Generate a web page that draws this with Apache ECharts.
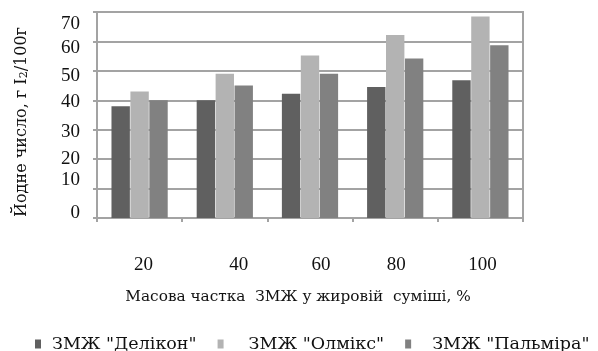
<!DOCTYPE html>
<html><head><meta charset="utf-8">
<script src="https://cdn.jsdelivr.net/npm/echarts@6/dist/echarts.min.js"></script>
<style>html,body{margin:0;padding:0;background:#fff}#c{width:598px;height:351px}</style>
</head><body><div id="c"></div>
<script>
const categories = ['20', '40', '60', '80', '100'];
const seriesNames = ['ЗМЖ "Делікон"', 'ЗМЖ "Олмікс"', 'ЗМЖ "Пальміра"'];
const delikon = [38, 40, 42.2, 44.5, 46.8];
const olmiks = [43, 49, 55.2, 62.2, 68.5];
const palmira = [40, 45, 49, 54.2, 58.7];
const yTicks = [0, 10, 20, 30, 40, 50, 60, 70];

const colors = ['#606060', '#b3b3b3', '#818181'];
const xShift = [4, 14, 11, 1, 2];
const yShift = { 0: -5, 10: -9, 20: 0, 30: 2, 40: 2, 50: 5, 60: 7, 70: 12 };
const legendPad = [6, 20, 16];
const numFont = '"Liberation Serif", serif';
const txtFont = '"DejaVu Serif", serif';

const xRich = {};
xShift.forEach((s, i) => {
  xRich['s' + i] = { fontFamily: numFont, fontSize: 19, color: '#111',
    padding: s >= 0 ? [0, 0, 0, 2 * s] : [0, -2 * s, 0, 0] };
});
const yRich = {};
yTicks.forEach(v => {
  const d = yShift[v];
  yRich['v' + v] = { fontFamily: numFont, fontSize: 19, color: '#111',
    padding: d >= 0 ? [2 * d, 0, 0, 0] : [0, 0, -2 * d, 0] };
});
const lRich = {};
legendPad.forEach((p, i) => { lRich['n' + i] = { fontFamily: txtFont, fontSize: 17.5, color: '#111', padding: [0, 0, 0, p] }; });

const chart = echarts.init(document.getElementById('c'));
chart.setOption({
  animation: false,
  color: colors,
  grid: { left: 97, right: 75, top: 12, bottom: 133, show: true, borderColor: '#a3a3a3', borderWidth: 2 },
  legend: {
    data: seriesNames, left: 30, top: 330, icon: 'rect', itemWidth: 6, itemHeight: 9, itemGap: 21,
    formatter: name => '{n' + seriesNames.indexOf(name) + '|' + name + '}',
    textStyle: { fontFamily: txtFont, fontSize: 17.5, color: '#111', rich: lRich }
  },
  xAxis: {
    type: 'category', data: categories,
    name: '{t|Масова частка  ЗМЖ у жировій  суміші, %}', nameLocation: 'middle', nameGap: 72,
    nameTextStyle: { rich: { t: { fontFamily: txtFont, fontSize: 15.3, color: '#111', padding: [0, 24, 0, 0] } } },
    axisLine: { lineStyle: { color: '#a3a3a3', width: 2 } },
    axisTick: { show: true, length: 4, lineStyle: { color: '#a3a3a3', width: 2 } },
    axisLabel: { margin: 38, formatter: (v, i) => '{s' + i + '|' + v + '}', rich: xRich },
    splitLine: { show: false }
  },
  yAxis: {
    type: 'value', min: 0, max: 70, interval: 10,
    name: '{a|Йодне число, г I}{b|2}{a|/100г}', nameLocation: 'middle', nameGap: 67, nameRotate: 90,
    nameTextStyle: { padding: [0, 14, 0, 0], rich: {
      a: { fontFamily: txtFont, fontSize: 16, color: '#111' },
      b: { fontFamily: txtFont, fontSize: 11, color: '#111', verticalAlign: 'bottom', padding: [6, 0, 0, 0] }
    } },
    axisLine: { show: true, lineStyle: { color: '#a3a3a3', width: 2 } },
    axisTick: { show: true, length: 4, lineStyle: { color: '#a3a3a3', width: 2 } },
    axisLabel: { margin: 17, formatter: v => yTicks.includes(v) ? '{v' + v + '|' + v + '}' : '', rich: yRich },
    splitLine: { lineStyle: { color: '#a3a3a3', width: 2 } }
  },
  series: [
    { name: seriesNames[0], type: 'bar', data: delikon, barGap: '3%', barCategoryGap: '34%' },
    { name: seriesNames[1], type: 'bar', data: olmiks, barGap: '3%', barCategoryGap: '34%' },
    { name: seriesNames[2], type: 'bar', data: palmira, barGap: '3%', barCategoryGap: '34%' }
  ]
});
</script></body></html>
